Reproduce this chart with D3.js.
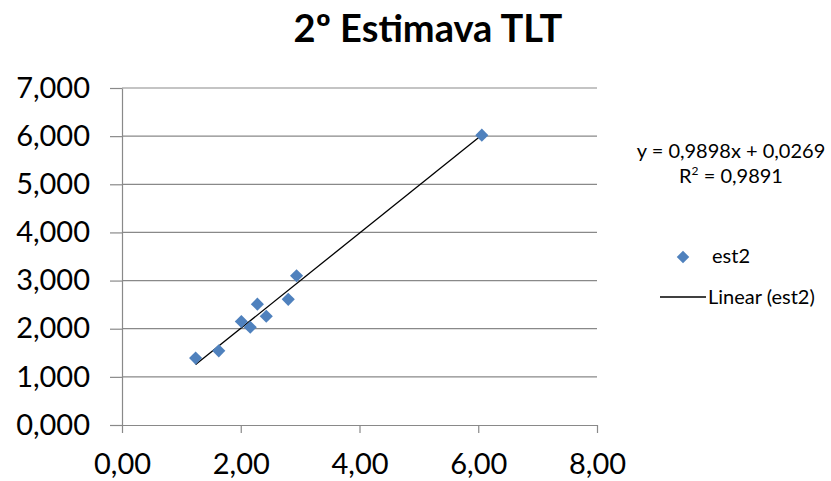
<!DOCTYPE html>
<html>
<head>
<meta charset="utf-8">
<script src="https://cdn.jsdelivr.net/npm/d3@7"></script>
<style>
body { margin: 0; background: #fff; }
text { font-family: Lato, "Open Sans", sans-serif; fill: #000; }
</style>
</head>
<body>
<svg id="chart" width="831" height="481"></svg>
<script>
const title = "2º Estimava TLT";
const seriesName = "est2";
const xValues = [6.06, 2.94, 2.80, 2.28, 2.43, 2.01, 2.16, 1.63, 1.24];
const yValues = [6.02, 3.10, 2.61, 2.51, 2.26, 2.15, 2.03, 1.54, 1.39];
const xTicks = [0, 2, 4, 6, 8];
const yTicks = [0, 1, 2, 3, 4, 5, 6, 7];
const trendSlope = 0.9898;
const trendIntercept = 0.0269;
const trendR2 = 0.9891;

(function () {
const svg = d3.select("#chart");
const mL = 122, mR = 597, mT = 88, mB = 425;

const x = d3.scaleLinear().domain([0, 8]).range([mL, mR]);
const y = d3.scaleLinear().domain([0, 7]).range([mB, mT]);

const fmtComma = d => d.replace(".", ",");
const xFmt = d => fmtComma(d3.format(".2f")(d));
const yFmt = d => fmtComma(d3.format(".3f")(d));

// gridlines
svg.append("g").selectAll("line").data(yTicks.filter(d => d > 0)).join("line")
  .attr("x1", mL).attr("x2", mR)
  .attr("y1", d => y(d)).attr("y2", d => y(d))
  .attr("stroke", "#898989").attr("stroke-width", 1.2);

// y axis
const yAxis = svg.append("g").attr("transform", `translate(${mL},0)`)
  .call(d3.axisLeft(y).tickValues(yTicks).tickFormat(yFmt).tickSize(12).tickSizeOuter(0).tickPadding(20));
yAxis.select(".domain").attr("stroke", "#898989").attr("stroke-width", 1.2);
yAxis.selectAll(".tick line").attr("stroke", "#898989").attr("stroke-width", 1.2);
yAxis.selectAll("text").attr("font-size", 29).attr("fill", "#222");

// x axis
const xAxis = svg.append("g").attr("transform", `translate(0,${mB})`)
  .call(d3.axisBottom(x).tickValues(xTicks).tickFormat(xFmt).tickSize(8).tickSizeOuter(0).tickPadding(20));
xAxis.select(".domain").attr("stroke", "#898989").attr("stroke-width", 1.2);
xAxis.selectAll(".tick line").attr("stroke", "#898989").attr("stroke-width", 1.2);
xAxis.selectAll("text").attr("font-size", 29).attr("fill", "#222");

// trend line
const xMin = d3.min(xValues), xMax = d3.max(xValues);
svg.append("line")
  .attr("x1", x(xMin)).attr("y1", y(trendSlope * xMin + trendIntercept))
  .attr("x2", x(xMax)).attr("y2", y(trendSlope * xMax + trendIntercept))
  .attr("stroke", "#000").attr("stroke-width", 1.3);

// points
const diamond = d3.symbol().type(d3.symbolDiamond2).size(110);
svg.append("g").selectAll("path").data(xValues.map((v, i) => [v, yValues[i]])).join("path")
  .attr("d", diamond)
  .attr("transform", d => `translate(${x(d[0])},${y(d[1])})`)
  .attr("fill", "#4F81BD");

// title
svg.append("text").attr("x", 428).attr("y", 42).attr("text-anchor", "middle")
  .attr("font-size", 38).attr("font-weight", "bold").attr("fill", "#111").text(title);

// equation
svg.append("text").attr("x", 731).attr("y", 158).attr("text-anchor", "middle")
  .attr("font-size", 20).attr("fill", "#222")
  .text(`y = ${fmtComma(String(trendSlope))}x + ${fmtComma(String(trendIntercept))}`);
const r2 = svg.append("text").attr("x", 731).attr("y", 183).attr("text-anchor", "middle")
  .attr("font-size", 20).attr("fill", "#222");
r2.append("tspan").text("R");
r2.append("tspan").attr("font-size", 12).attr("dy", -8).text("2");
r2.append("tspan").attr("dy", 8).text(` = ${fmtComma(String(trendR2))}`);

// legend
svg.append("path").attr("d", d3.symbol().type(d3.symbolDiamond2).size(100))
  .attr("transform", "translate(683,257)").attr("fill", "#4F81BD");
svg.append("text").attr("x", 712).attr("y", 263).attr("font-size", 20).attr("fill", "#222").text(seriesName);
svg.append("line").attr("x1", 660).attr("x2", 706).attr("y1", 297).attr("y2", 297)
  .attr("stroke", "#000").attr("stroke-width", 1.3);
svg.append("text").attr("x", 708).attr("y", 304).attr("font-size", 20).attr("fill", "#222").text(`Linear (${seriesName})`);
})();
</script>
</body>
</html>
